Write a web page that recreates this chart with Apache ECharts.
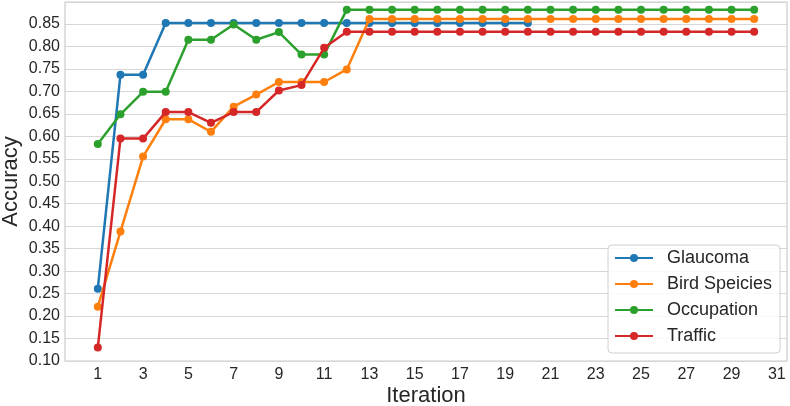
<!DOCTYPE html>
<html>
<head>
<meta charset="utf-8">
<script src="https://cdn.jsdelivr.net/npm/echarts@6/dist/echarts.min.js"></script>
<style>
html,body{margin:0;padding:0;background:#fff;}
#chart{width:790px;height:406px;}
</style>
</head>
<body>
<div id="chart"></div>
<script>
var seriesNames = ['Glaucoma', 'Bird Speicies', 'Occupation', 'Traffic'];
var glaucoma = [0.261, 0.737, 0.737, 0.852, 0.852, 0.852, 0.852, 0.852, 0.852, 0.852, 0.852, 0.852, 0.852, 0.852, 0.852, 0.852, 0.852, 0.852, 0.852, 0.852];
var birdSpecies = [0.221, 0.388, 0.555, 0.638, 0.638, 0.610, 0.666, 0.693, 0.721, 0.721, 0.721, 0.749, 0.861, 0.861, 0.861, 0.861, 0.861, 0.861, 0.861, 0.861, 0.861, 0.861, 0.861, 0.861, 0.861, 0.861, 0.861, 0.861, 0.861, 0.861];
var occupation = [0.583, 0.649, 0.699, 0.699, 0.815, 0.815, 0.849, 0.815, 0.832, 0.782, 0.782, 0.882, 0.882, 0.882, 0.882, 0.882, 0.882, 0.882, 0.882, 0.882, 0.882, 0.882, 0.882, 0.882, 0.882, 0.882, 0.882, 0.882, 0.882, 0.882];
var traffic = [0.130, 0.595, 0.595, 0.654, 0.654, 0.630, 0.654, 0.654, 0.702, 0.714, 0.797, 0.833, 0.833, 0.833, 0.833, 0.833, 0.833, 0.833, 0.833, 0.833, 0.833, 0.833, 0.833, 0.833, 0.833, 0.833, 0.833, 0.833, 0.833, 0.833];
var xTickLabels = [1, 3, 5, 7, 9, 11, 13, 15, 17, 19, 21, 23, 25, 27, 29, 31];
var colors = ['#1f77b4', '#ff7f0e', '#2ca02c', '#d62728'];

function toPairs(arr) {
  return arr.map(function (v, i) { return [i + 1, v]; });
}
var allData = [glaucoma, birdSpecies, occupation, traffic];
var textColor = '#262626';
var font = 'Liberation Sans, Arial, sans-serif';

var chart = echarts.init(document.getElementById('chart'));
chart.setOption({
  animation: false,
  color: colors,
  grid: {
    left: 65, right: 3, top: 2, bottom: 45,
    outerBoundsMode: 'none',
    containLabel: false,
    show: true, borderColor: '#cccccc', borderWidth: 1.2, backgroundColor: '#fff'
  },
  legend: {
    orient: 'vertical',
    left: 608, top: 245,
    padding: [4, 8, 8, 6],
    itemWidth: 38, itemHeight: 10, itemGap: 8,
    backgroundColor: 'rgba(255,255,255,0.85)',
    borderColor: '#d0d0d0', borderWidth: 1, borderRadius: 4,
    textStyle: { fontSize: 18, color: textColor, fontFamily: font, lineHeight: 18, padding: [0, 0, 0, 9] },
    data: seriesNames
  },
  xAxis: {
    type: 'value',
    min: -0.45, max: 31.45,
    name: 'Iteration', nameLocation: 'middle', nameGap: 24,
    nameMoveOverlap: false,
    nameTextStyle: { fontSize: 22, color: textColor, fontFamily: font },
    axisLine: { show: false },
    axisTick: { show: false },
    splitLine: { show: false },
    axisLabel: { customValues: xTickLabels, fontSize: 16, color: textColor, fontFamily: font, margin: 6 }
  },
  yAxis: {
    type: 'value',
    min: 0.1, max: 0.899, interval: 0.05,
    name: 'Accuracy', nameLocation: 'middle', nameGap: 43, nameRotate: 90,
    nameMoveOverlap: false,
    nameTextStyle: { fontSize: 22, color: textColor, fontFamily: font },
    axisLine: { show: false },
    axisTick: { show: false },
    splitLine: { lineStyle: { color: '#d6d6d6', width: 1.2 } },
    axisLabel: {
      fontSize: 16, color: textColor, fontFamily: font, margin: 5,
      showMaxLabel: false,
      formatter: function (v) { return v.toFixed(2); }
    }
  },
  series: allData.map(function (arr, k) {
    return {
      name: seriesNames[k],
      type: 'line',
      data: toPairs(arr),
      symbol: 'circle',
      symbolSize: 8,
      lineStyle: { width: 2.5, color: colors[k] },
      itemStyle: { color: colors[k] },
      z: 2 + k
    };
  })
});
</script>
</body>
</html>
